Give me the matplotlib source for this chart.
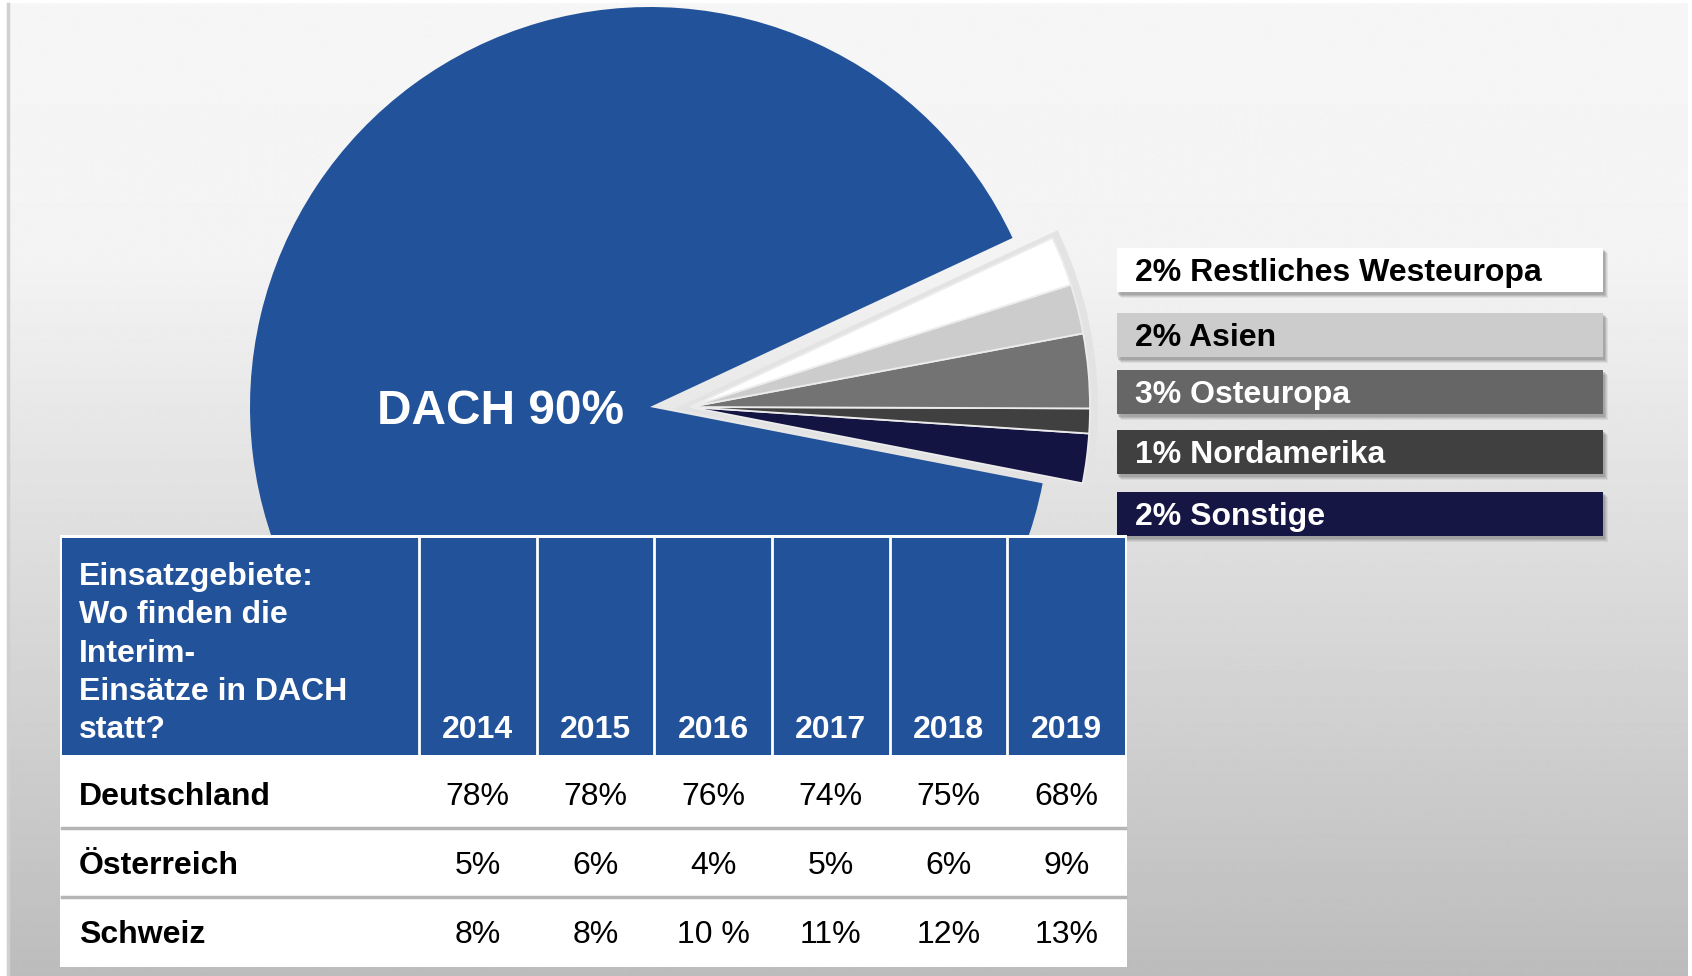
import numpy as np
import matplotlib
matplotlib.use("Agg")
import matplotlib.pyplot as plt
from matplotlib.patches import Rectangle

# ---------------- data ----------------
regions = ["DACH", "Sonstige", "Nordamerika", "Osteuropa", "Asien", "Restliches Westeuropa"]
shares = [90, 2, 1, 3, 2, 2]
slice_colors = ["#22529a", "#141442", "#404040", "#737373", "#cccccc", "#ffffff"]

legend_labels = ["Restliches Westeuropa", "Asien", "Osteuropa", "Nordamerika", "Sonstige"]
legend_values = [2, 2, 3, 1, 2]
legend_box_colors = ["#ffffff", "#cccccc", "#666666", "#404040", "#161645"]
legend_text_colors = ["black", "black", "white", "white", "white"]

header_lines = ["Einsatzgebiete:", "Wo finden die", "Interim-", "Einsätze in DACH", "statt?"]
years = ["2014", "2015", "2016", "2017", "2018", "2019"]
countries = ["Deutschland", "Österreich", "Schweiz"]
deutschland = ["78%", "78%", "76%", "74%", "75%", "68%"]
oesterreich = ["5%", "6%", "4%", "5%", "6%", "9%"]
schweiz = ["8%", "8%", "10 %", "11%", "12%", "13%"]
table_rows = [deutschland, oesterreich, schweiz]

# ---------------- figure ----------------
W, H = 1692, 976
plt.rcParams["font.family"] = ["Liberation Sans", "DejaVu Sans"]
fig = plt.figure(figsize=(W / 100, H / 100), dpi=100)
fig.patch.set_facecolor("white")
ax = fig.add_axes([0, 0, 1, 1])


def Y(y):
    return H - y


# background gradient panel
ys = np.arange(H)
g = np.interp(ys, [0, 250, 700, 976], [0.965, 0.955, 0.823, 0.737])
img = np.repeat(g[:, None], 2, axis=1)
ax.imshow(img, cmap="gray", vmin=0, vmax=1, extent=(9, 1688, Y(976), Y(3)),
          origin="upper", aspect="auto", zorder=0, interpolation="bilinear")
ax.plot([8, 8], [0, Y(4)], color="#d0d0d0", lw=2.5, zorder=0.5)

# ---------------- pie ----------------
cx, cy, R, dx = 650, Y(407), 400, 40
back, _ = ax.pie([shares[0], sum(shares[1:])], startangle=25, colors=["none", "#e3e3e3"],
                 radius=R + 3, center=(cx + dx, cy),
                 wedgeprops=dict(linewidth=7, edgecolor="#e3e3e3"))
back[0].set_visible(False)
back[1].set_zorder(1)

wedges, _ = ax.pie(shares, startangle=25, colors=slice_colors, radius=R, center=(cx, cy),
                   wedgeprops=dict(linewidth=0))
for w in wedges:
    w.set_zorder(2)
for w in wedges[1:]:
    w.set_center((cx + dx, cy))
    w.set_edgecolor("#ececec")
    w.set_linewidth(1.3)

ax.text(624, Y(424), f"{regions[0]} {shares[0]}%", ha="right", va="baseline",
        fontsize=34.4, fontweight="bold", color="white", zorder=3)

# ---------------- legend boxes ----------------
bx0, bx1 = 1117, 1603
box_top = [248, 313, 370, 430, 492]
box_h = 44
for i, (lab, val) in enumerate(zip(legend_labels, legend_values)):
    t = box_top[i]
    for s, a in [(6, 0.12), (5, 0.15), (4, 0.2), (3, 0.25)]:
        ax.add_patch(Rectangle((bx0 + s - 2, Y(t + box_h + s)), bx1 - bx0 + 1, box_h + 1,
                               fc="#707070", ec="none", alpha=a, zorder=3))
    ax.add_patch(Rectangle((bx0, Y(t + box_h)), bx1 - bx0, box_h,
                           fc=legend_box_colors[i], ec="none", zorder=4))
    ax.text(1135, Y(t + box_h / 2 + 11), f"{val}% {lab}", ha="left", va="baseline",
            fontsize=23, fontweight="bold", color=legend_text_colors[i], zorder=5)

# ---------------- table ----------------
tx0, tx1 = 62, 1125
first_w = 357
col_w = (tx1 - tx0 - first_w) / len(years)
col_edges = [tx0, tx0 + first_w] + [tx0 + first_w + col_w * (k + 1) for k in range(len(years))]
head_top, head_bot = 538, 755
row_bounds = [755, 828, 897, 967]

ax.add_patch(Rectangle((tx0 - 2, Y(row_bounds[-1])), tx1 - tx0 + 4, row_bounds[-1] - (head_top - 3),
                       fc="white", ec="none", zorder=5))
ax.add_patch(Rectangle((tx0, Y(head_bot)), tx1 - tx0, head_bot - head_top,
                       fc="#22529a", ec="none", zorder=6))
for x in col_edges[1:-1]:
    ax.plot([x, x], [Y(head_top), Y(head_bot)], color="white", lw=2, zorder=7)
for yb in row_bounds[1:-1]:
    ax.plot([tx0, tx1], [Y(yb), Y(yb)], color="#b5b5b5", lw=2.5, zorder=7)

for i, line in enumerate(header_lines):
    ax.text(79, Y(585 + 38.3 * i), line, ha="left", va="baseline", fontsize=23,
            fontweight="bold", color="white", zorder=8)

centers = [(col_edges[k + 1] + col_edges[k + 2]) / 2 for k in range(len(years))]
for k, yr in enumerate(years):
    ax.text(centers[k], Y(738), yr, ha="center", va="baseline", fontsize=23,
            fontweight="bold", color="white", zorder=8)

row_base = [805, 874, 943]
for r, (country, vals) in enumerate(zip(countries, table_rows)):
    ax.text(79, Y(row_base[r]), country, ha="left", va="baseline", fontsize=23,
            fontweight="bold", color="black", zorder=8)
    for k, v in enumerate(vals):
        ax.text(centers[k], Y(row_base[r]), v, ha="center", va="baseline", fontsize=23,
                color="black", zorder=8)

ax.set_xlim(0, W)
ax.set_ylim(0, H)
ax.set_aspect("auto")
ax.axis("off")
fig.savefig("out.png", dpi=100, facecolor="white")
